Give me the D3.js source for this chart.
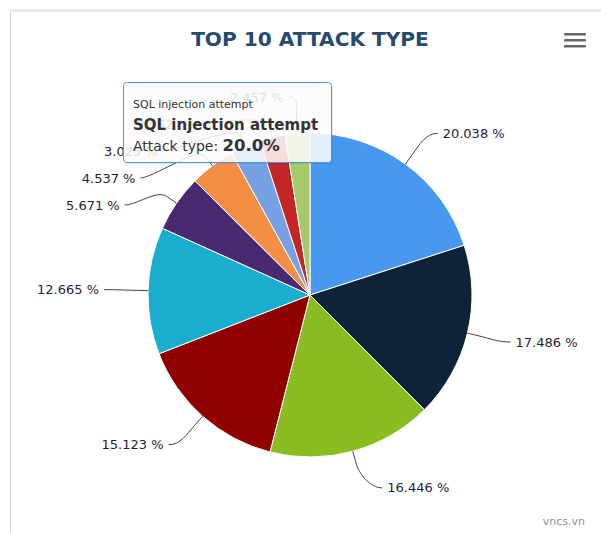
<!DOCTYPE html>
<html>
<head>
<meta charset="utf-8">
<script src="https://cdn.jsdelivr.net/npm/d3@7"></script>
<style>
  body { margin: 0; background: #fff; }
  #chart { width: 601px; height: 533px; }
</style>
</head>
<body>
<div id="chart"></div>
<script>
// Data
const categories = ["SQL injection attempt", "Cross-site scripting attempt", "Directory traversal attempt",
    "Brute force login attempt", "Port scan", "Remote file inclusion", "Command injection attempt",
    "Malware download", "DoS attempt", "Suspicious user agent"];
const values = [20.038, 17.486, 16.446, 15.123, 12.665, 5.671, 4.537, 3.025, 2.552, 2.457];
const seriesName = "Attack type";
const chartTitle = "TOP 10 ATTACK TYPE";
const credits = "vncs.vn";

const colors = ["#4897f1", "#0d233a", "#8bbc21", "#910000", "#1aadce",
    "#492970", "#f28f43", "#77a1e5", "#c42525", "#a6c96a"];

const width = 601, height = 533;
const cx = 310, cy = 295, radius = 162;
const labelRy = 200, labelRx = 206, labelGap = 27, labelTop = 97, labelBottom = 500;

const svg = d3.select("#chart").append("svg")
    .attr("width", width)
    .attr("height", height)
    .style("font-family", "'DejaVu Sans', Verdana, sans-serif");

// container border (only top and left visible)
svg.append("line").attr("x1", 10).attr("x2", width).attr("y1", 10.5).attr("y2", 10.5)
    .attr("stroke", "#e4e4e4").attr("stroke-width", 2);
svg.append("line").attr("x1", 10.5).attr("x2", 10.5).attr("y1", 10).attr("y2", height)
    .attr("stroke", "#d6d6d6");

// title, fitted to the width seen in the picture
const title = svg.append("text")
    .attr("x", cx).attr("y", 46)
    .attr("text-anchor", "middle")
    .attr("fill", "#274b6d")
    .attr("font-weight", "bold")
    .attr("font-size", 18)
    .text(chartTitle);
const tw = title.node().getComputedTextLength();
title.attr("font-size", 18 * 238 / tw);

// menu button
svg.append("g").selectAll("rect").data([0, 1, 2]).join("rect")
    .attr("x", 564).attr("y", d => 33 + d * 6)
    .attr("width", 22).attr("height", 2.6).attr("rx", 1.2)
    .attr("fill", "#666");

// pie
const pie = d3.pie().sort(null).value(d => d.value);
const data = categories.map((c, i) => ({name: c, value: values[i], color: colors[i]}));
const arcs = pie(data);
const arc = d3.arc().innerRadius(0).outerRadius(radius);

const g = svg.append("g").attr("transform", `translate(${cx},${cy})`);
g.selectAll("path.slice").data(arcs).join("path")
    .attr("class", "slice")
    .attr("d", arc)
    .attr("fill", d => d.data.color)
    .attr("stroke", "#fff")
    .attr("stroke-width", 1);

// label positions: natural spot, then pushed apart on each side
const labels = arcs.map((d, i) => {
    const mid = (d.startAngle + d.endAngle) / 2;
    return {
        i, mid,
        side: Math.sin(mid) >= 0 ? 1 : -1,
        ny: cy - labelRy * Math.cos(mid),
        nx: cx + labelRy * Math.sin(mid),
        text: d3.format(".3f")(d.data.value) + " %"
    };
});

function distribute(items) {
    items.sort((a, b) => a.ny - b.ny);
    let clusters = [];
    items.forEach(it => {
        clusters.push({items: [it]});
        place(clusters[clusters.length - 1]);
        while (clusters.length > 1) {
            const a = clusters[clusters.length - 2], b = clusters[clusters.length - 1];
            if (a.start + a.items.length * labelGap > b.start) {
                clusters.pop();
                a.items = a.items.concat(b.items);
                place(a);
            } else break;
        }
    });
    clusters.forEach(c => c.items.forEach((it, k) => { it.y = c.start + k * labelGap; }));
}
function place(c) {
    const n = c.items.length;
    const mean = d3.mean(c.items, d => d.ny);
    c.start = Math.max(labelTop, Math.min(labelBottom - (n - 1) * labelGap, mean - (n - 1) * labelGap / 2));
}
distribute(labels.filter(d => d.side > 0));
distribute(labels.filter(d => d.side < 0));

labels.forEach(l => {
    const dy = l.y - cy;
    if (l.ny < labelTop) {
        l.x = l.nx - 6;
    } else {
        l.x = cx + l.side * Math.sqrt(Math.max(0, labelRx * labelRx - dy * dy));
    }
});

// connectors
const connector = l => {
    const bx = cx + radius * Math.sin(l.mid), by = cy - radius * Math.cos(l.mid);
    const b2x = cx + (radius + 12) * Math.sin(l.mid), b2y = cy - (radius + 12) * Math.cos(l.mid);
    const p = d3.path();
    p.moveTo(l.x, l.y);
    p.bezierCurveTo(l.x - l.side * 12, l.y, 2 * b2x - bx, 2 * b2y - by, b2x, b2y);
    p.lineTo(bx, by);
    return p.toString();
};
svg.append("g").selectAll("path").data(labels).join("path")
    .attr("d", connector)
    .attr("fill", "none")
    .attr("stroke", "#444")
    .attr("stroke-width", 1);

svg.append("g").selectAll("text").data(labels).join("text")
    .attr("x", d => d.x + d.side * 5)
    .attr("y", d => d.y)
    .attr("dy", "0.35em")
    .attr("text-anchor", d => d.side > 0 ? "start" : "end")
    .attr("font-size", 13)
    .attr("fill", "#1e1e3c")
    .text(d => d.text);

// credits
svg.append("text")
    .attr("x", 585).attr("y", 525)
    .attr("text-anchor", "end")
    .attr("font-size", 11)
    .attr("fill", "#909090")
    .text(credits);

// tooltip for the hovered slice
const tip = svg.append("g").attr("transform", "translate(123,82)");
tip.append("rect")
    .attr("x", 2).attr("y", 2).attr("width", 208).attr("height", 80).attr("rx", 3)
    .attr("fill", "#000").attr("opacity", 0.08);
tip.append("rect")
    .attr("x", 0.5).attr("y", 0.5).attr("width", 208).attr("height", 80).attr("rx", 3)
    .attr("fill", "#fff").attr("fill-opacity", 0.85)
    .attr("stroke", colors[0]).attr("stroke-width", 1);
tip.append("text")
    .attr("x", 10).attr("y", 26)
    .attr("font-size", 11).attr("fill", "#333")
    .text(categories[0]);
tip.append("text")
    .attr("x", 10).attr("y", 48)
    .attr("font-size", 15).attr("font-weight", "bold").attr("fill", "#333")
    .text(categories[0]);
const t3 = tip.append("text")
    .attr("x", 10).attr("y", 69)
    .attr("font-size", 14).attr("fill", "#333");
t3.append("tspan").text(seriesName + ": ");
t3.append("tspan").attr("font-weight", "bold").attr("font-size", 16.5)
    .text(d3.format(".1f")(values[0]) + "%");
</script>
</body>
</html>
